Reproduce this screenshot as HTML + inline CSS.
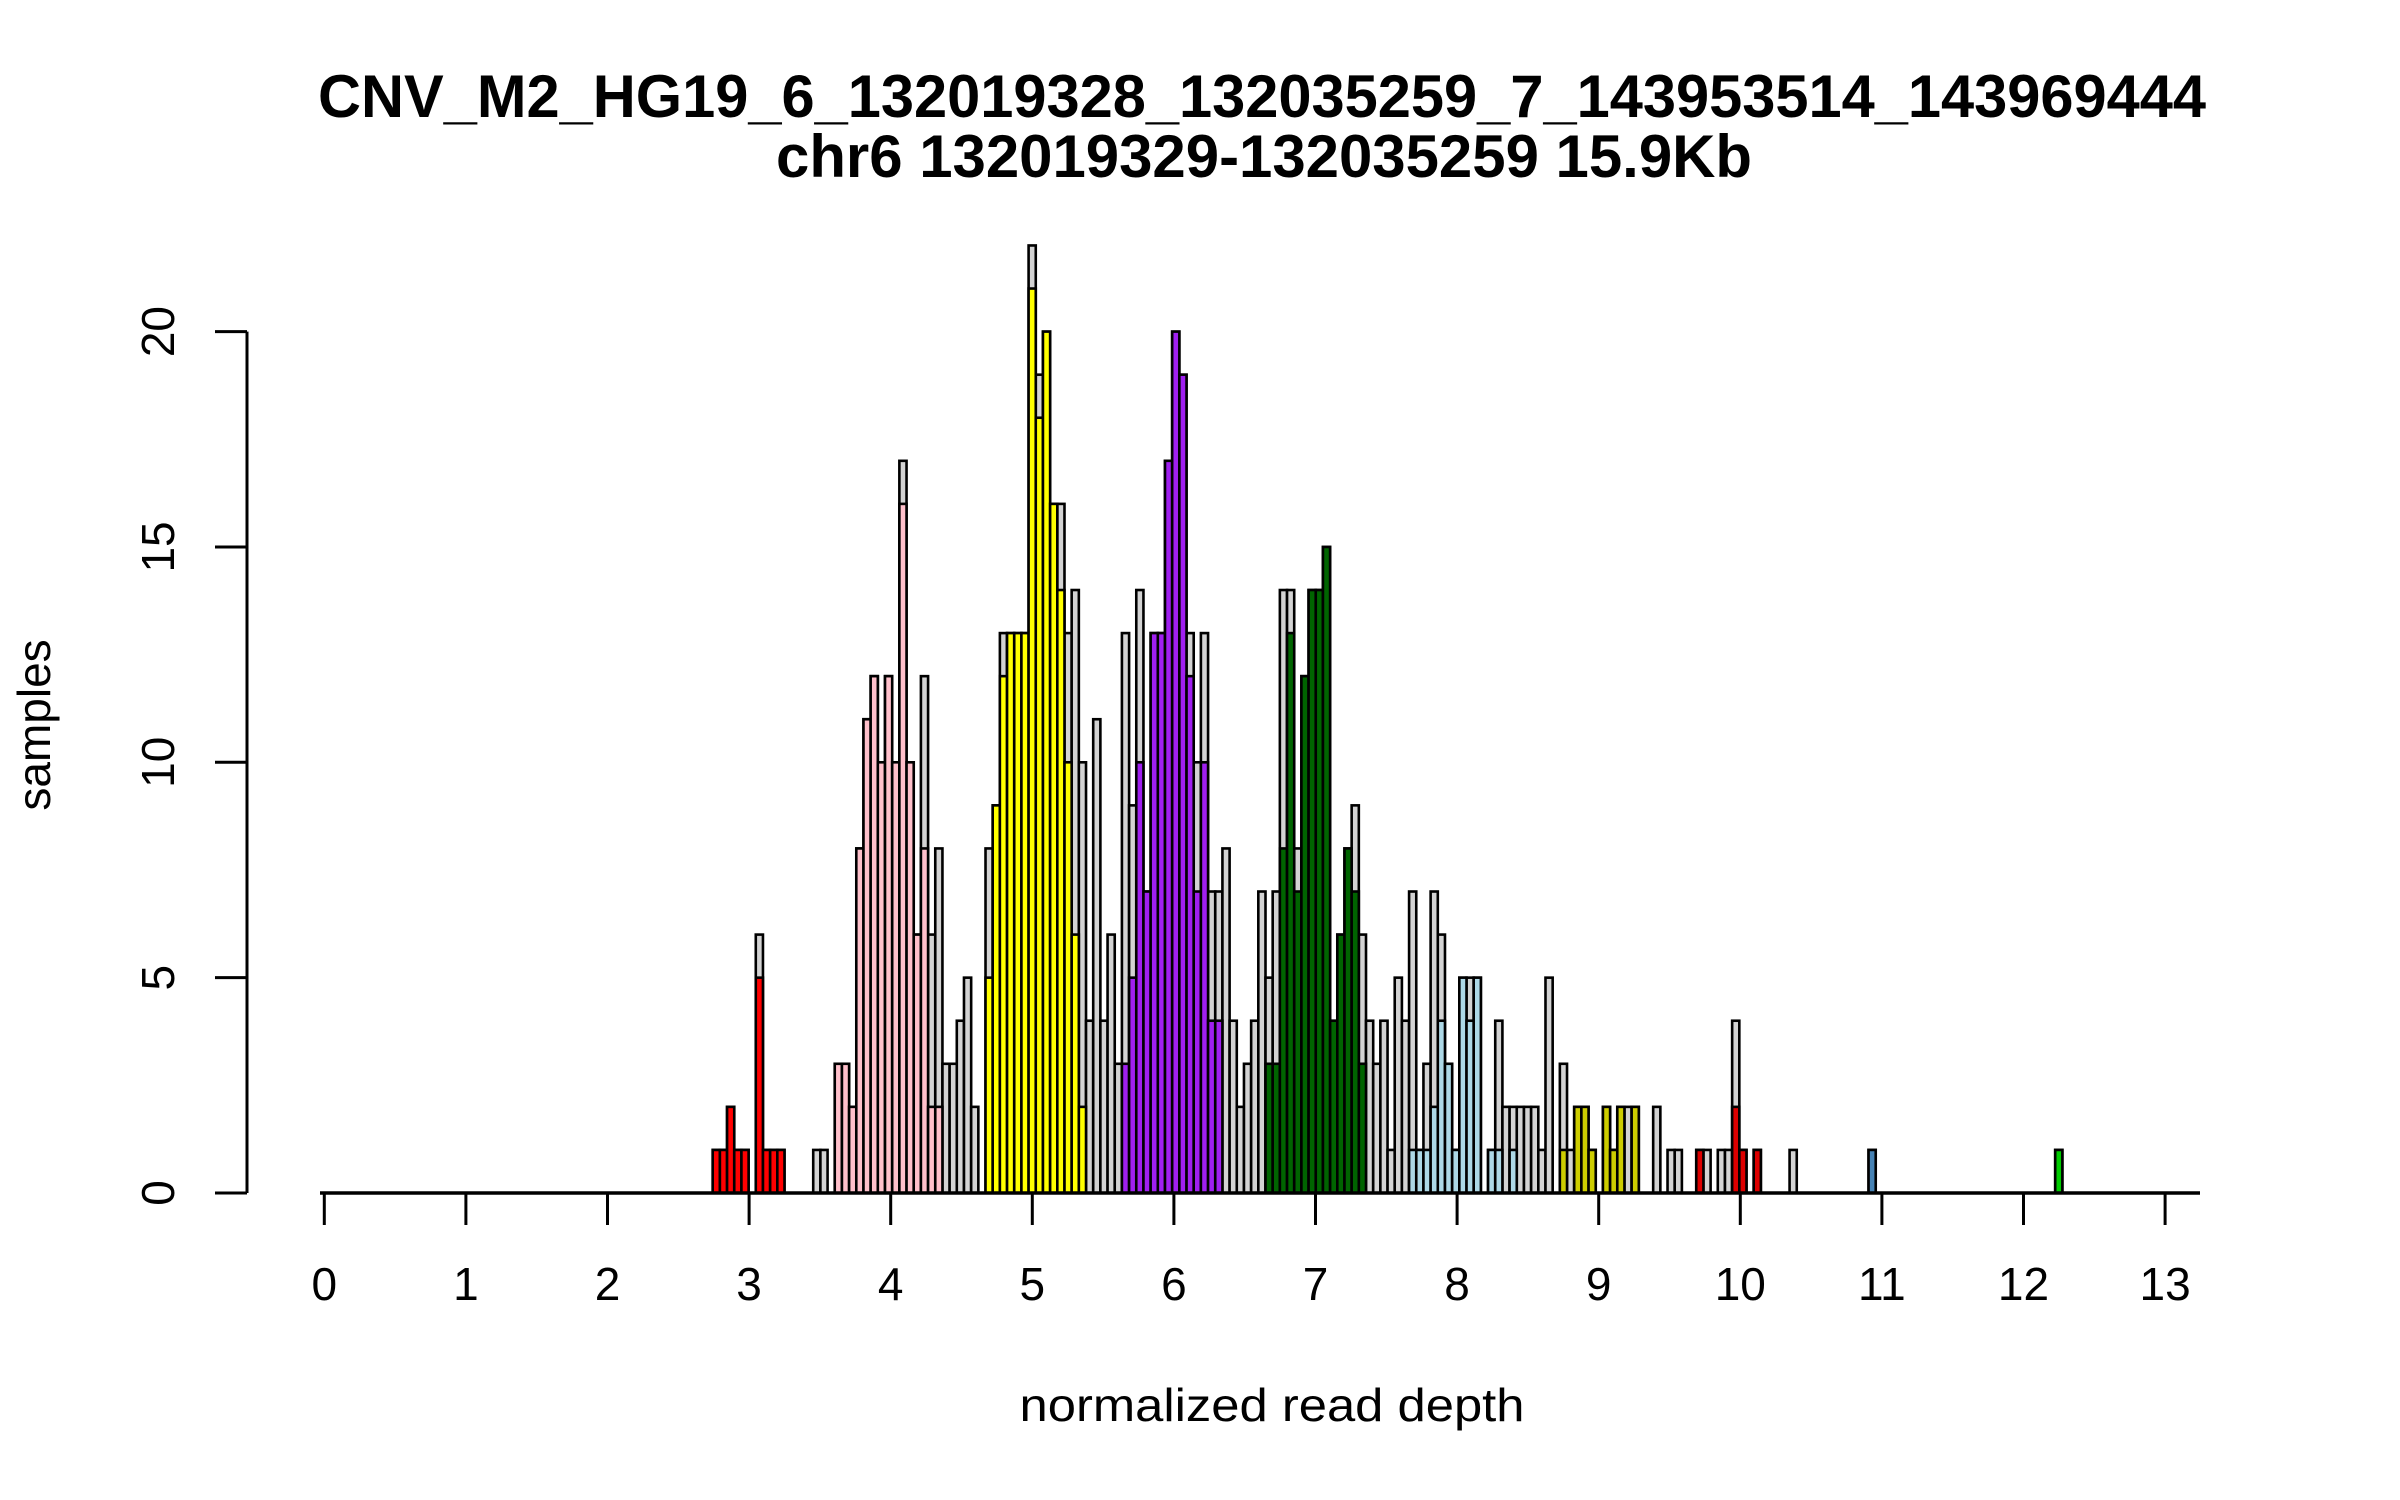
<!DOCTYPE html>
<html><head><meta charset="utf-8"><style>
html,body{margin:0;padding:0;background:#fff;}
svg{display:block;font-family:"Liberation Sans",Arial,sans-serif;}
</style></head>
<body>
<svg id="chart" width="2400" height="1500" viewBox="0 0 2400 1500" xmlns="http://www.w3.org/2000/svg">
<rect x="0" y="0" width="2400" height="1500" fill="#fff"/>
<text x="1262" y="117" text-anchor="middle" font-size="60" font-weight="bold" textLength="1888" lengthAdjust="spacingAndGlyphs">CNV_M2_HG19_6_132019328_132035259_7_143953514_143969444</text>
<text x="1264" y="177" text-anchor="middle" font-size="60" font-weight="bold" textLength="976" lengthAdjust="spacingAndGlyphs">chr6 132019329-132035259 15.9Kb</text>
<text x="1272" y="1421" text-anchor="middle" font-size="46" textLength="505" lengthAdjust="spacingAndGlyphs">normalized read depth</text>
<text transform="translate(50,725) rotate(-90)" text-anchor="middle" font-size="46">samples</text>
<g id="bars"></g>
<g id="axes"></g>
</svg>
<script>
const binStart = 2.743;
const binWidth = 0.0507;
const xTicks = [0,1,2,3,4,5,6,7,8,9,10,11,12,13];
const yTicks = [0,5,10,15,20];
const totalCounts = [
1,1,2,1,1,0,6,1,1,1,
0,0,0,0,1,1,0,
3,3,2,8,11,12,10,12,10,17,10,6,12,6,8,3,3,4,5,2,0,
8,9,13,13,13,13,22,19,20,16,16,13,14,10,4,11,4,6,3,
13,9,14,7,13,13,17,20,19,13,10,13,7,7,8,4,2,3,4,7,
5,7,14,14,8,12,14,14,15,4,6,8,9,6,4,3,4,1,5,4,
7,1,3,7,6,3,1,5,5,5,0,1,4,2,2,2,2,2,1,5,0,
3,1,2,2,1,0,2,1,2,2,2,0,0,2,0,1,1,0,0,
1,1,0,1,1,4,1,0,1,0,0,0,0,1,
0,0,0,0,0,0,0,0,0,0,
1,
0,0,0,0,0,0,0,0,0,0,0,0,0,0,0,0,0,0,0,0,0,0,0,0,0,
1];
const redStart = 0;
const redCounts = [1,1,2,1,1,0,5,1,1,1];
const pinkStart = 17;
const pinkCounts = [3,3,2,8,11,12,10,12,10,16,10,6,8,2,2];
const yellowStart = 38;
const yellowCounts = [5,9,12,13,13,13,21,18,20,16,14,10,6,2];
const purpleStart = 57;
const purpleCounts = [3,5,10,7,13,13,17,20,19,12,7,10,4,4];
const darkgreenStart = 77;
const darkgreenCounts = [3,3,8,13,7,12,14,14,15,4,6,8,7,3];
const lightblueStart = 97;
const lightblueCounts = [1,1,1,2,4,3,1,5,4,5,0,1,1,0,1];
const goldStart = 118;
const goldCounts = [1,0,2,2,1,0,2,1,2,0,2];
const red2Start = 137;
const red2Counts = [1,0,0,0,0,2,1,0,1];
const steelStart = 161;
const steelCounts = [1];
const greenStart = 187;
const greenCounts = [1];

const NS = "http://www.w3.org/2000/svg";
const X0 = 324.3, XU = 141.6, Y0 = 1193, YU = 43.07;
function xs(v){ return X0 + v*XU; }
function ys(v){ return Y0 - v*YU; }
const barsG = document.getElementById('bars');
const axesG = document.getElementById('axes');

function drawSeries(start, counts, fill, name){
  counts.forEach(function(c, i){
    if (c <= 0) return;
    const k = start + i;
    const a = binStart + k*binWidth;
    const r = document.createElementNS(NS, 'rect');
    r.setAttribute('x', xs(a));
    r.setAttribute('y', ys(c));
    r.setAttribute('width', xs(a+binWidth) - xs(a));
    r.setAttribute('height', ys(0) - ys(c));
    r.setAttribute('fill', fill);
    r.setAttribute('stroke', '#000');
    r.setAttribute('stroke-width', '2.6');
    
    
    barsG.appendChild(r);
  });
}
drawSeries(0, totalCounts, '#D3D3D3', 'all-samples');
drawSeries(redStart, redCounts, '#FF0000', 'red-group');
drawSeries(pinkStart, pinkCounts, '#FFC0CB', 'pink-group');
drawSeries(yellowStart, yellowCounts, '#FFFF00', 'yellow-group');
drawSeries(purpleStart, purpleCounts, '#A020F0', 'purple-group');
drawSeries(darkgreenStart, darkgreenCounts, '#006400', 'darkgreen-group');
drawSeries(lightblueStart, lightblueCounts, '#ADD8E6', 'lightblue-group');
drawSeries(goldStart, goldCounts, '#CDCD00', 'gold-group');
drawSeries(red2Start, red2Counts, '#DD0000', 'red2-group');
drawSeries(steelStart, steelCounts, '#4682B4', 'steelblue-group');
drawSeries(greenStart, greenCounts, '#00CD00', 'green-group');

function line(x1,y1,x2,y2,name,w){
  const l = document.createElementNS(NS,'line');
  l.setAttribute('x1',x1); l.setAttribute('y1',y1);
  l.setAttribute('x2',x2); l.setAttribute('y2',y2);
  l.setAttribute('stroke','#000'); l.setAttribute('stroke-width', w || 3);
  
  
  axesG.appendChild(l);
}
line(320, Y0, 2200, Y0, 'baseline', 3.5);
xTicks.forEach(function(t){
  line(xs(t), Y0, xs(t), 1225, 'x-tick', 3);
  const tx = document.createElementNS(NS,'text');
  tx.setAttribute('x', xs(t));
  tx.setAttribute('y', 1300);
  tx.setAttribute('text-anchor','middle');
  tx.setAttribute('font-size','46');
  tx.textContent = t;
  
  
  axesG.appendChild(tx);
});
line(247, ys(yTicks[0]), 247, ys(yTicks[yTicks.length-1]), 'y-axis-line', 3);
yTicks.forEach(function(t){
  line(215, ys(t), 247, ys(t), 'y-tick', 3);
  const tx = document.createElementNS(NS,'text');
  tx.setAttribute('transform', 'translate(174,' + ys(t) + ') rotate(-90)');
  tx.setAttribute('text-anchor','middle');
  tx.setAttribute('font-size','46');
  tx.textContent = t;
  
  
  axesG.appendChild(tx);
});
</script>
</body></html>
